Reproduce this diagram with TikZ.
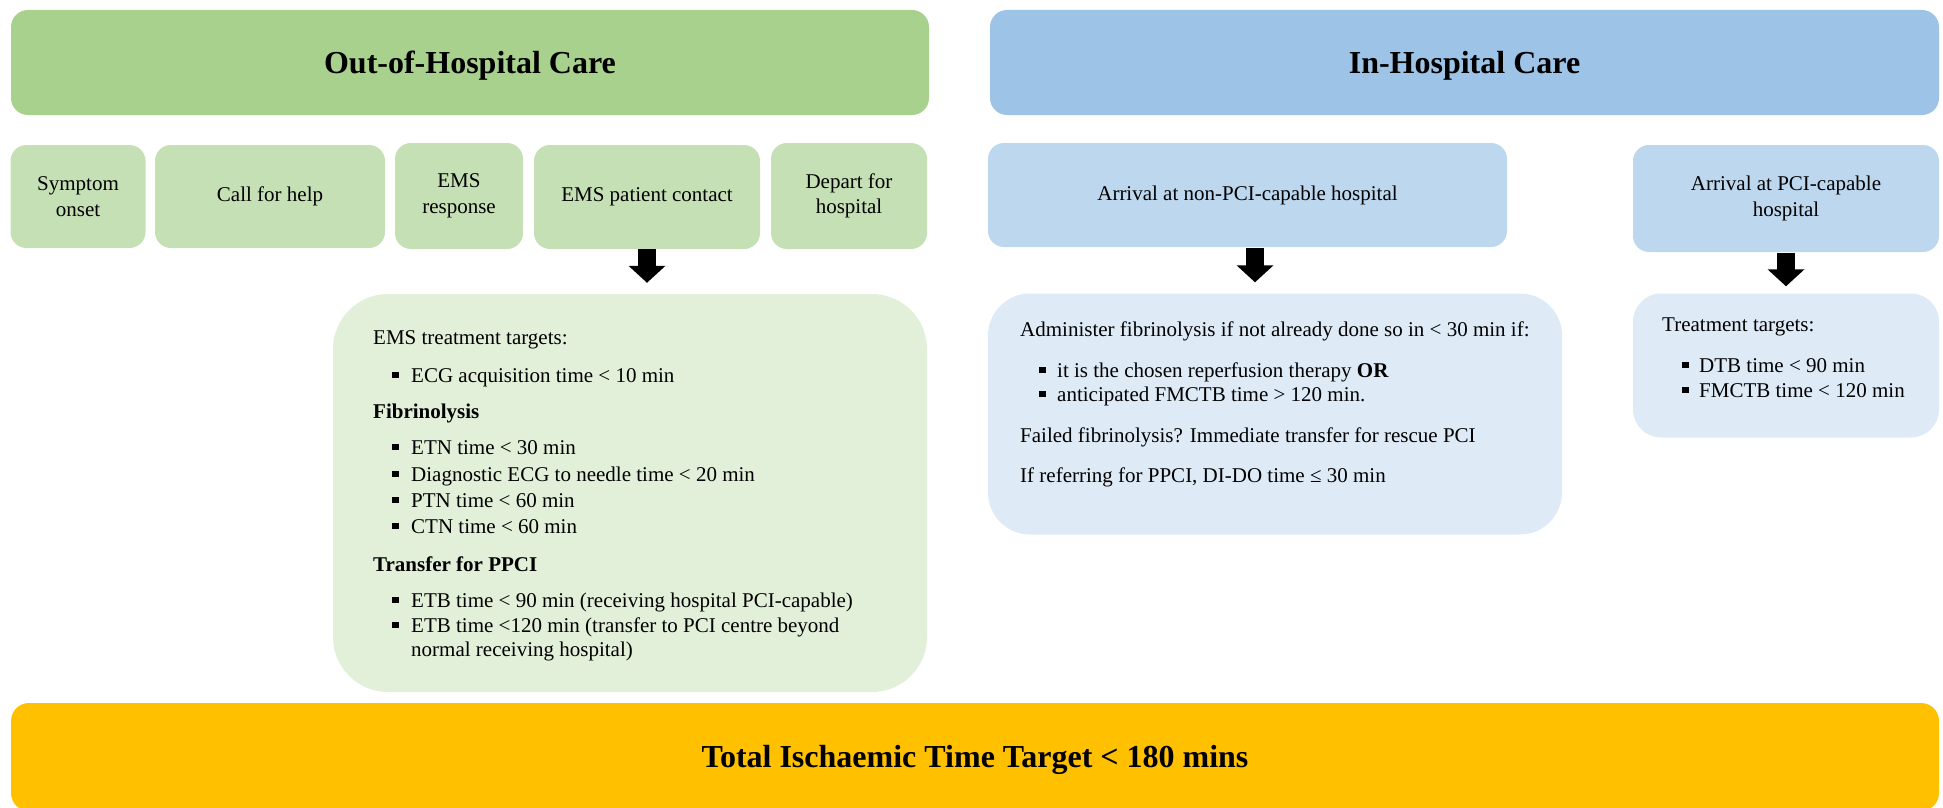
\documentclass[tikz,border=0pt]{standalone}
\usepackage{fontspec}
\setmainfont{Liberation Serif}
\usetikzlibrary{arrows.meta}
\definecolor{hdrgreen}{HTML}{A9D18E}
\definecolor{midgreen}{HTML}{C5E0B4}
\definecolor{lightgreen}{HTML}{E2F0D9}
\definecolor{hdrblue}{HTML}{9DC3E6}
\definecolor{midblue}{HTML}{BDD7EE}
\definecolor{lightblue}{HTML}{DEEBF7}
\definecolor{totalyellow}{HTML}{FFC000}
\newcommand\sqb{\rule[0.2em]{0.3em}{0.3em}}
\newcommand\bitem[2][19pt]{\makebox[#1][l]{\sqb}#2}
\begin{document}
\begin{tikzpicture}[x=1pt,y=-1pt,
  box/.style={rounded corners=16pt, inner sep=0pt, align=center, font=\fontsize{21}{25.5}\selectfont},
  hdr/.style={rounded corners=17pt, inner sep=0pt, text height=21.5pt, text depth=0pt, font=\fontsize{32}{38}\selectfont\bfseries},
  txt/.style={anchor=base west, inner sep=0pt, font=\fontsize{21}{25}\selectfont},
  btxt/.style={txt, font=\fontsize{21}{25}\selectfont\bfseries},
  blockarrow/.style={line width=18pt, -{Triangle[width=36pt,length=17pt]}},
]
\useasboundingbox (0,0) rectangle (1943,808);

% headers
\node[hdr, fill=hdrgreen, minimum width=918pt, minimum height=105pt] (ohc) at (470,62.5) {Out-of-Hospital Care};
\node[hdr, fill=hdrblue, minimum width=949pt, minimum height=105pt] (ihc) at (1464.5,62.5) {In-Hospital Care};

% small green boxes
\node[box, fill=midgreen, minimum width=135pt, minimum height=103pt] (symp) at (78,196.5) {Symptom\\onset};
\node[box, fill=midgreen, minimum width=230pt, minimum height=103pt] (call) at (270,196.5) {Call for help};
\node[box, fill=midgreen, minimum width=128pt, minimum height=106pt] (emsr) at (459,196) {EMS\\response};
\node[box, fill=midgreen, minimum width=226pt, minimum height=104pt] (emsc) at (647,197) {EMS patient contact};
\node[box, fill=midgreen, minimum width=156pt, minimum height=106pt] (dep) at (849,196) {Depart for\\hospital};

% small blue boxes
\node[box, fill=midblue, minimum width=519pt, minimum height=104pt] (nonpci) at (1247.5,195) {Arrival at non-PCI-capable hospital};
\node[box, fill=midblue, minimum width=306pt, minimum height=107pt] (pci) at (1786,198.5) {Arrival at PCI-capable\\hospital};

% content boxes
\node[fill=lightgreen, rounded corners=55pt, minimum width=594pt, minimum height=398pt, inner sep=0pt] (emsbox) at (630,493) {};
\node[fill=lightblue, rounded corners=42pt, minimum width=574pt, minimum height=241pt, inner sep=0pt] (nonbox) at (1275,414) {};
\node[fill=lightblue, rounded corners=28pt, minimum width=306pt, minimum height=144pt, inner sep=0pt] (pcibox) at (1786,365.5) {};

% total
\node[hdr, fill=totalyellow, rounded corners=18pt, minimum width=1928pt, minimum height=108pt] (total) at (975,757) {Total Ischaemic Time Target < 180 mins};

% arrows
\draw[blockarrow, shorten >=11pt] (emsc.south) -- (emsc.south |- emsbox.north);
\draw[blockarrow, shorten <=1pt, shorten >=11pt] ([xshift=7.5pt]nonpci.south) -- ([xshift=7.5pt]nonpci.south |- nonbox.north);
\draw[blockarrow, shorten <=1pt, shorten >=7pt] (pci.south) -- (pci.south |- pcibox.north);

% green content text
\node[txt] (g1) at (373,344) {EMS treatment targets:};
\node[txt] (g2) at (392,382) {\bitem{ECG acquisition time < 10 min}};
\node[btxt] (g3) at (373,418) {Fibrinolysis};
\node[txt] (g4) at (392,454) {\bitem{ETN time < 30 min}};
\node[txt] (g5) at (392,481) {\bitem{Diagnostic ECG to needle time < 20 min}};
\node[txt] (g6) at (392,507) {\bitem{PTN time < 60 min}};
\node[txt] (g7) at (392,533) {\bitem{CTN time < 60 min}};
\node[btxt] (g8) at (373,571) {Transfer for PPCI};
\node[txt] (g9) at (392,607) {\bitem{ETB time < 90 min (receiving hospital PCI-capable)}};
\node[txt] (g10) at (392,632) {\bitem{ETB time <120 min (transfer to PCI centre beyond}};
\node[txt] (g11) at (411,656) {normal receiving hospital)};

% blue content text
\node[txt] (b1) at (1020,336) {Administer fibrinolysis if not already done so in < 30 min if:};
\node[txt] (b2) at (1039,377) {\bitem[18pt]{it is the chosen reperfusion therapy \textbf{OR}}};
\node[txt] (b3) at (1039,401) {\bitem[18pt]{anticipated FMCTB time > 120 min.}};
\node[txt] (b4) at (1020,442) {Failed fibrinolysis? Immediate transfer for rescue PCI};
\node[txt] (b5) at (1020,482) {If referring for PPCI, DI-DO time ≤ 30 min};

% right content text
\node[txt] (r1) at (1662,331) {Treatment targets:};
\node[txt] (r2) at (1682,372) {\bitem[17pt]{DTB time < 90 min}};
\node[txt] (r3) at (1682,397) {\bitem[17pt]{FMCTB time < 120 min}};
\end{tikzpicture}
\end{document}
